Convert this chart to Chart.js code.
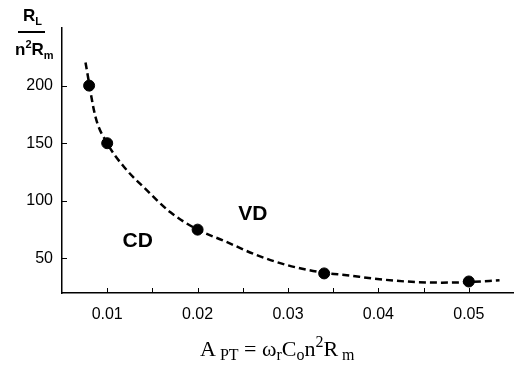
<!DOCTYPE html>
<html>
<head>
<meta charset="utf-8">
<script src="https://cdn.jsdelivr.net/npm/chart.js@4"></script>
<style>
  body { margin: 0; background: #fff; }
  canvas { display: block; }
</style>
</head>
<body>
<canvas id="myChart" width="514" height="365"></canvas>
<script>
// measured points (A_PT, R_L / n^2 R_m)
const ptX = [0.008, 0.01, 0.02, 0.034, 0.05];
const ptY = [200, 150, 75, 37, 30];

// dashed fitted curve
const fitX = [0.0076, 0.0087, 0.01, 0.0118, 0.0144, 0.017, 0.02, 0.023, 0.0265, 0.03, 0.034, 0.0365, 0.0395, 0.043, 0.047, 0.05, 0.0534];
const fitY = [220, 173, 150, 130, 109, 90, 75, 65, 53, 44, 37.5, 35.5, 32.5, 30, 29, 29.5, 31];

// ticks
const xTicks = [0.01, 0.015, 0.02, 0.025, 0.03, 0.035, 0.04, 0.045, 0.05];
const xLabels = ['0.01', '', '0.02', '', '0.03', '', '0.04', '', '0.05'];
const yTicks = [50, 100, 150, 200];

// region labels, in data coordinates (left, baseline)
const regionText = ['CD', 'VD'];
const regionX = [0.0117, 0.0245];
const regionY = [60, 83];

const sans = "'Liberation Sans', Arial, sans-serif";
const serif = "'Liberation Serif', 'Times New Roman', serif";

const toXY = (xs, ys) => xs.map((x, i) => ({x: x, y: ys[i]}));

// draws text pieces one after another: [text, font, dy]
function drawRun(ctx, x, y, parts) {
  parts.forEach(p => {
    ctx.font = p[1];
    ctx.fillText(p[0], x, y + p[2]);
    x += ctx.measureText(p[0]).width;
  });
}

const extras = {
  id: 'extras',
  afterDraw(chart) {
    const ctx = chart.ctx;
    const xs = chart.scales.x, ys = chart.scales.y;
    const a = chart.chartArea;
    ctx.save();
    // inward tick marks
    ctx.strokeStyle = '#000';
    ctx.lineWidth = 1;
    ctx.beginPath();
    xTicks.forEach(v => {
      const px = Math.round(xs.getPixelForValue(v)) + 0.5;
      ctx.moveTo(px, a.bottom);
      ctx.lineTo(px, a.bottom - 5);
    });
    yTicks.forEach(v => {
      const py = Math.round(ys.getPixelForValue(v)) + 0.5;
      ctx.moveTo(a.left, py);
      ctx.lineTo(a.left + 5, py);
    });
    ctx.stroke();

    ctx.fillStyle = '#000';
    ctx.textBaseline = 'alphabetic';
    ctx.textAlign = 'left';

    // region labels
    ctx.font = 'bold 21px ' + sans;
    regionText.forEach((t, i) => {
      ctx.fillText(t, xs.getPixelForValue(regionX[i]), ys.getPixelForValue(regionY[i]));
    });

    // y axis title as a fraction
    drawRun(ctx, 23, 21, [['R', 'bold 17px ' + sans, 0], ['L', 'bold 11px ' + sans, 4]]);
    ctx.fillRect(18, 31, 27, 2);
    drawRun(ctx, 15, 55, [
      ['n', 'bold 17px ' + sans, 0], ['2', 'bold 11px ' + sans, -7],
      ['R', 'bold 17px ' + sans, 0], ['m', 'bold 11px ' + sans, 4]
    ]);

    // x axis title
    const big = '22px ' + serif, small = '16px ' + serif;
    drawRun(ctx, 200, 356, [
      ['A', big, 0], [' PT', small, 4], [' = ', big, 0],
      ['\u03c9', big, 0], ['r', small, 4], ['C', big, 0], ['o', small, 4],
      ['n', big, 0], ['2', small, -9], ['R', big, 0], [' m', small, 4]
    ]);
    ctx.restore();
  }
};

const ctx = document.getElementById('myChart').getContext('2d');
const myChart = new Chart(ctx, {
  type: 'scatter',
  data: {
    datasets: [{
      label: 'fit',
      data: toXY(fitX, fitY),
      showLine: true,
      borderColor: '#000',
      borderWidth: 2.5,
      borderDash: [7, 4],
      cubicInterpolationMode: 'monotone',
      pointRadius: 0,
      fill: false
    }, {
      label: 'measured',
      data: toXY(ptX, ptY),
      showLine: false,
      pointRadius: 5.5,
      pointBackgroundColor: '#000',
      pointBorderColor: '#000',
      pointBorderWidth: 1
    }]
  },
  options: {
    responsive: false,
    animation: false,
    events: [],
    layout: { autoPadding: false, padding: { top: 28, right: 0, left: 0, bottom: 0 } },
    plugins: {
      legend: { display: false },
      tooltip: { enabled: false }
    },
    scales: {
      x: {
        type: 'linear',
        min: 0.005,
        max: 0.055,
        afterBuildTicks: s => { s.ticks = xTicks.map(v => ({value: v})); },
        afterFit: s => { s.height = 72; s.paddingLeft = 0; s.paddingRight = 0; },
        grid: { display: true, drawOnChartArea: false, drawTicks: false },
        border: { display: true, color: '#000', width: 1.5 },
        ticks: {
          padding: 12,
          color: '#000',
          font: { family: sans, size: 16 },
          maxRotation: 0,
          autoSkip: false,
          callback: (v, i) => xLabels[i]
        }
      },
      y: {
        type: 'linear',
        min: 20,
        max: 250,
        afterBuildTicks: s => { s.ticks = yTicks.map(v => ({value: v})); },
        afterFit: s => { s.width = 62; s.paddingTop = 0; s.paddingBottom = 0; },
        grid: { display: true, drawOnChartArea: false, drawTicks: false },
        border: { display: true, color: '#000', width: 1.5 },
        ticks: {
          padding: 9,
          color: '#000',
          font: { family: sans, size: 16 },
          callback: v => String(v)
        }
      }
    }
  },
  plugins: [extras]
});
</script>
</body>
</html>
